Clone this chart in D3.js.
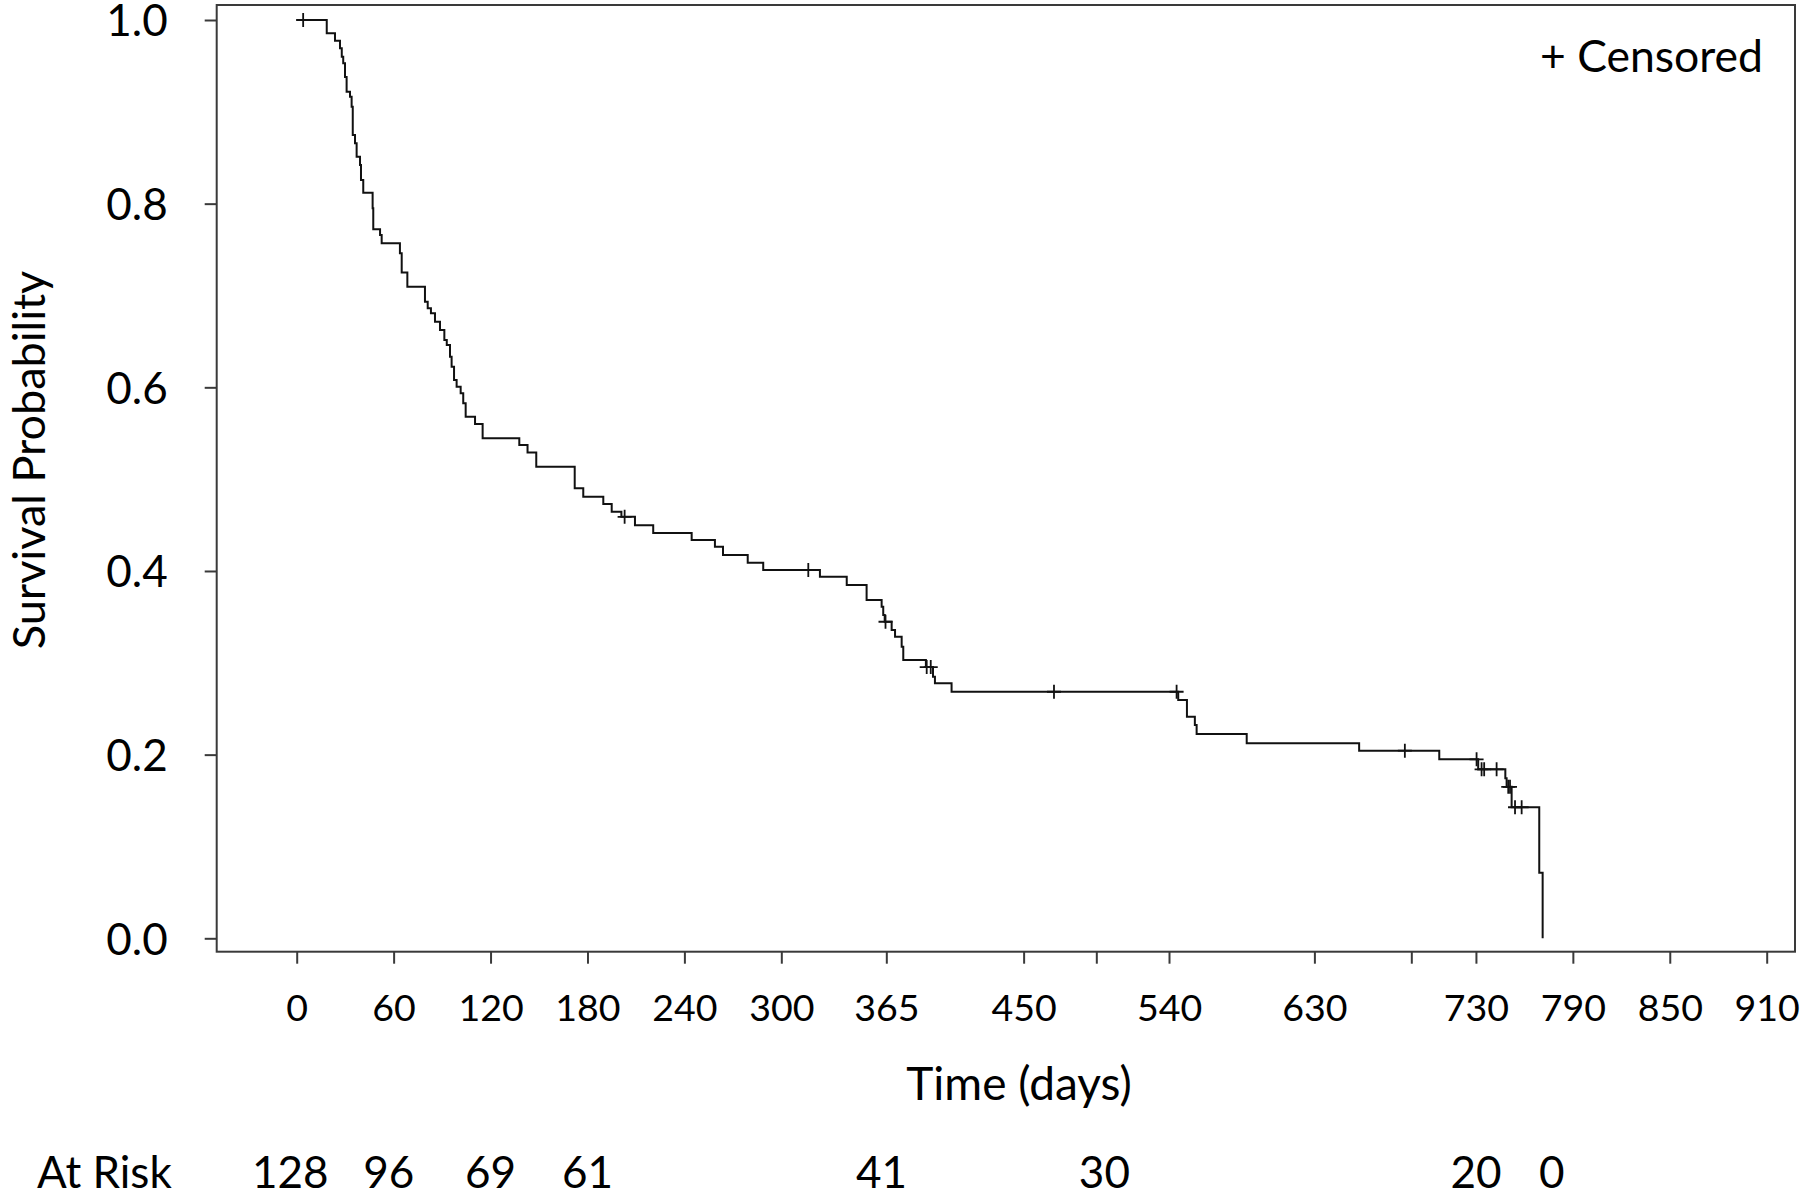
<!DOCTYPE html>
<html>
<head>
<meta charset="utf-8">
<script src="https://cdn.jsdelivr.net/npm/d3@7"></script>
<style>
  body { margin: 0; background: #fff; }
  svg { display: block; font-family: Lato, "Open Sans", sans-serif; }
</style>
</head>
<body>
<div id="chart"></div>
<script>
// Kaplan-Meier curve: step times (days) and survival after each step
const eventDays = [18.6, 23.7, 26.8, 27.9, 28.8, 29.9, 30.9, 33.0, 34.0, 34.7, 36.1, 37.1, 39.2, 39.8, 41.2,
  47.0, 47.4, 51.6, 52.6, 63.9, 65.0, 68.5, 79.4, 81.1, 83.1, 85.6, 88.7, 91.4, 92.9, 94.9, 95.9, 97.4,
  99.0, 101.5, 103.1, 104.6, 110.4, 115.1, 137.8, 142.9, 148.3, 172.1, 177.4, 189.8, 195.0, 201.0, 209.4,
  220.7, 244.5, 258.9, 263.9, 279.2, 288.8, 323.9, 340.5, 352.8, 362.1, 363.1, 364.0, 368.3, 370.4, 374.5,
  375.5, 389.5, 393.9, 395.1, 405.4, 545.7, 551.1, 556.0, 557.1, 588.1, 657.7, 707.3, 731.4, 748.2, 749.0,
  752.1, 769.2, 771.3];
const survival = [0.9855, 0.9775, 0.9692, 0.960, 0.953, 0.938, 0.922, 0.9165, 0.9056, 0.8748, 0.8657, 0.8511,
  0.842, 0.8257, 0.812, 0.795, 0.772, 0.766, 0.757, 0.746, 0.725, 0.7096, 0.6932, 0.686, 0.6806, 0.6715,
  0.6624, 0.6515, 0.646, 0.6333, 0.6225, 0.608, 0.6007, 0.5935, 0.5826, 0.568, 0.560, 0.5445, 0.5372, 0.529,
  0.5136, 0.490, 0.4809, 0.473, 0.4646, 0.459, 0.4497, 0.4414, 0.4337, 0.4264, 0.4174, 0.409, 0.401, 0.3938,
  0.3847, 0.3684, 0.361, 0.352, 0.3447, 0.3357, 0.3284, 0.3175, 0.303, 0.2954, 0.2849, 0.2777, 0.2685,
  0.2595, 0.2413, 0.2323, 0.2225, 0.2123, 0.2043, 0.1949, 0.184, 0.1742, 0.165, 0.1427, 0.0714, 0];
const censorDays = [4, 203, 316.7, 364.5, 390, 392.5, 468.8, 544.7, 686, 730.4, 733.5, 735.1, 742.8,
  750, 751.1, 754.2, 758.3];

const xTicks = [0, 60, 120, 180, 240, 300, 365, 450, 495, 540, 630, 690, 730, 790, 850, 910];
const xTickLabels = ["0", "60", "120", "180", "240", "300", "365", "450", "", "540", "630", "", "730", "790", "850", "910"];
const yTicks = [0, 0.2, 0.4, 0.6, 0.8, 1.0];

// where the at-risk numbers sit along the time axis (days)
const atRiskDays = [-4, 57, 120, 180, 362, 500, 730, 777];
const atRiskCounts = [128, 96, 69, 61, 41, 30, 20, 0];

const width = 1800, height = 1198;
const frame = { left: 216.7, right: 1795, top: 5, bottom: 951.7 };

const svg = d3.select("#chart").append("svg")
  .attr("width", width)
  .attr("height", height);

const x = d3.scaleLinear().domain([0, 910]).range([296.7, 1766.7]);
const y = d3.scaleLinear().domain([0, 1]).range([938.3, 20]);

// plot box
svg.append("rect")
  .attr("x", frame.left).attr("y", frame.top)
  .attr("width", frame.right - frame.left)
  .attr("height", frame.bottom - frame.top)
  .attr("fill", "none")
  .attr("stroke", "#3a3a3a")
  .attr("stroke-width", 2);

// x axis
const xAxis = svg.append("g")
  .attr("transform", `translate(0,${frame.bottom})`)
  .call(d3.axisBottom(x).tickValues(xTicks)
    .tickFormat((d, i) => xTickLabels[i])
    .tickSize(12).tickPadding(31));
xAxis.select(".domain").remove();
xAxis.selectAll("line").attr("stroke", "#3a3a3a").attr("stroke-width", 2);
xAxis.selectAll("text")
  .attr("font-family", "Lato").attr("font-size", 37.5).attr("fill", "#000");

// y axis
const yAxis = svg.append("g")
  .attr("transform", `translate(${frame.left},0)`)
  .call(d3.axisLeft(y).tickValues(yTicks)
    .tickFormat(d3.format(".1f"))
    .tickSize(12).tickPadding(37));
yAxis.select(".domain").remove();
yAxis.selectAll("line").attr("stroke", "#3a3a3a").attr("stroke-width", 2);
yAxis.selectAll("text")
  .attr("dy", "0.36em")
  .attr("font-family", "Lato").attr("font-size", 44).attr("fill", "#000");

// survival curve
const steps = [[0, 1]].concat(eventDays.map((d, i) => [d, survival[i]]));
const line = d3.line()
  .x(d => x(d[0]))
  .y(d => y(d[1]))
  .curve(d3.curveStepAfter);

svg.append("path")
  .datum(steps)
  .attr("d", line)
  .attr("fill", "none")
  .attr("stroke", "#111")
  .attr("stroke-width", 2);

// censor marks sit on the curve
function survAt(t) {
  const i = d3.bisectRight(eventDays, t) - 1;
  return i < 0 ? 1 : survival[i];
}
const half = 7;
svg.append("g")
  .selectAll("path")
  .data(censorDays)
  .enter()
  .append("path")
  .attr("d", d => {
    const cx = x(d), cy = y(survAt(d));
    return `M${cx - half},${cy}H${cx + half}M${cx},${cy - half}V${cy + half}`;
  })
  .attr("stroke", "#111")
  .attr("stroke-width", 1.8)
  .attr("fill", "none");

// legend
svg.append("text")
  .attr("x", 1763).attr("y", 71.7)
  .attr("text-anchor", "end")
  .attr("font-size", 44.5)
  .text("+ Censored");

// axis titles
svg.append("text")
  .attr("x", 1019).attr("y", 1100)
  .attr("text-anchor", "middle")
  .attr("font-size", 46)
  .text("Time (days)");

svg.append("text")
  .attr("transform", "translate(45,460) rotate(-90)")
  .attr("text-anchor", "middle")
  .attr("font-size", 45)
  .text("Survival Probability");

// number at risk row
svg.append("text")
  .attr("x", 37).attr("y", 1188)
  .attr("font-size", 44)
  .text("At Risk");

svg.append("g")
  .selectAll("text")
  .data(atRiskDays)
  .enter()
  .append("text")
  .attr("x", d => x(d))
  .attr("y", 1188)
  .attr("text-anchor", "middle")
  .attr("font-size", 44)
  .text((d, i) => atRiskCounts[i]);
</script>
</body>
</html>
